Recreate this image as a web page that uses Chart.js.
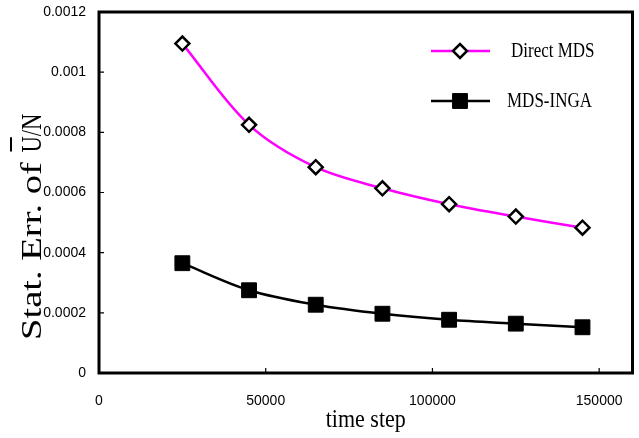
<!DOCTYPE html>
<html>
<head>
<meta charset="utf-8">
<script src="https://cdn.jsdelivr.net/npm/chart.js@4"></script>
<style>
  html, body { margin: 0; padding: 0; background: #fff; overflow: hidden; }
  #wrap { width: 639px; height: 438px; overflow: hidden; position: relative; }
  canvas { display: block; }
</style>
</head>
<body>
<div id="wrap"><canvas id="c" width="644" height="438" style="width:644px;height:438px"></canvas></div>
<script>
// Statistical error of U/N versus number of time steps
const timeSteps = [25000, 45000, 65000, 85000, 105000, 125000, 145000];
const directMDS = [0.001095, 0.000825, 0.000684, 0.000614, 0.000561, 0.000520, 0.000483];
const mdsINGA   = [0.000365, 0.000275, 0.000227, 0.000197, 0.000177, 0.000164, 0.000152];

const seriesNames = ['Direct MDS', 'MDS-INGA'];

const xTickValues = [0, 50000, 100000, 150000];
const xTickLabels = ['0', '50000', '100000', '150000'];
const yTickValues = [0, 0.0002, 0.0004, 0.0006, 0.0008, 0.001, 0.0012];
const yTickLabels = ['0', '0.0002', '0.0004', '0.0006', '0.0008', '0.001', '0.0012'];

const xTitle = 'time step';
const yTitleParts = ['Stat. Err. of ', 'U', '/N'];   // middle part carries an overline

const toPoints = (xs, ys) => xs.map((x, i) => ({ x, y: ys[i] }));

const SERIF = '"Liberation Serif", "Times New Roman", serif';
const SANS = '"Liberation Sans", Arial, sans-serif';

// Frame, inward tick marks, legend and axis titles
const decorations = {
  id: 'decorations',
  beforeDatasetsDraw(chart) {
    const { ctx, chartArea: a, scales: { x, y } } = chart;
    ctx.save();
    ctx.strokeStyle = '#000';
    ctx.lineWidth = 3;
    ctx.strokeRect(a.left, a.top, a.right - a.left, a.bottom - a.top);
    ctx.lineWidth = 1.2;
    ctx.beginPath();
    x.ticks.forEach(t => {
      const px = x.getPixelForValue(t.value);
      ctx.moveTo(px, a.bottom); ctx.lineTo(px, a.bottom - 5);
    });
    y.ticks.forEach(t => {
      const py = y.getPixelForValue(t.value);
      ctx.moveTo(a.left, py); ctx.lineTo(a.left + 5, py);
    });
    ctx.stroke();
    ctx.restore();
  },
  afterDraw(chart) {
    const { ctx, chartArea: a } = chart;
    ctx.save();

    // legend
    const rowY = [51, 101];
    const textX = [511, 507];
    chart.data.datasets.forEach((ds, i) => {
      const cy = rowY[i];
      ctx.strokeStyle = ds.borderColor;
      ctx.lineWidth = ds.borderWidth;
      ctx.beginPath();
      ctx.moveTo(431, cy); ctx.lineTo(490, cy);
      ctx.stroke();
      ctx.fillStyle = ds.pointBackgroundColor;
      ctx.strokeStyle = ds.pointBorderColor;
      ctx.lineWidth = ds.pointBorderWidth;
      Chart.helpers.drawPoint(ctx, {
        pointStyle: ds.pointStyle, radius: ds.pointRadius,
        borderWidth: ds.pointBorderWidth, rotation: 0
      }, 460, cy);
      ctx.save();
      ctx.translate(textX[i], cy + 1);
      ctx.scale(1, 1.2);
      ctx.fillStyle = '#000';
      ctx.font = '17px ' + SERIF;
      ctx.textAlign = 'left';
      ctx.textBaseline = 'middle';
      ctx.fillText(ds.label, 0, 0);
      ctx.restore();
    });

    // x title
    ctx.save();
    ctx.translate((a.left + a.right) / 2, 427);
    ctx.scale(1, 1.15);
    ctx.fillStyle = '#000';
    ctx.font = '22px ' + SERIF;
    ctx.textAlign = 'center';
    ctx.textBaseline = 'alphabetic';
    ctx.fillText(xTitle, 0, 0);
    ctx.restore();

    // y title, read bottom to top, with an overlined U
    ctx.save();
    ctx.translate(41, 340);
    ctx.rotate(-Math.PI / 2);
    ctx.fillStyle = '#000';
    ctx.strokeStyle = '#000';
    ctx.font = '29px ' + SERIF;
    ctx.textBaseline = 'alphabetic';
    ctx.textAlign = 'left';
    const [pre, mid, post] = yTitleParts;
    const preScale = 1.33, tailScale = 0.78;
    const preW = ctx.measureText(pre).width * preScale;
    const midW = ctx.measureText(mid).width * tailScale;
    ctx.save();
    ctx.scale(preScale, 1);
    ctx.fillText(pre, 0, 0);
    ctx.restore();
    ctx.save();
    ctx.translate(preW, 0);
    ctx.scale(tailScale, 1);
    ctx.fillText(mid + post, 0, 0);
    ctx.restore();
    ctx.lineWidth = 2;
    ctx.beginPath();
    ctx.moveTo(preW + 1, -30);
    ctx.lineTo(preW + midW - 1, -30);
    ctx.stroke();
    ctx.restore();

    ctx.restore();
  }
};

new Chart(document.getElementById('c'), {
  type: 'line',
  data: {
    datasets: [
      {
        label: seriesNames[0],
        data: toPoints(timeSteps, directMDS),
        borderColor: '#ff00ff',
        borderWidth: 2.5,
        pointStyle: 'rectRot',
        pointRadius: 7,
        pointBackgroundColor: '#ffffff',
        pointBorderColor: '#000000',
        pointBorderWidth: 2.5,
        tension: 0.33,
        fill: false
      },
      {
        label: seriesNames[1],
        data: toPoints(timeSteps, mdsINGA),
        borderColor: '#000000',
        borderWidth: 2.5,
        pointStyle: 'rect',
        pointRadius: 10.5,
        pointBackgroundColor: '#000000',
        pointBorderColor: '#000000',
        pointBorderWidth: 1,
        tension: 0.33,
        fill: false
      }
    ]
  },
  options: {
    responsive: false,
    animation: false,
    devicePixelRatio: 1,
    layout: { padding: { top: 12, right: 1, left: 0, bottom: 0 } },
    plugins: { legend: { display: false }, tooltip: { enabled: false } },
    scales: {
      x: {
        type: 'linear',
        min: 0,
        max: 160000,
        grid: { display: false, drawTicks: false },
        border: { display: false },
        afterBuildTicks: s => { s.ticks = xTickValues.map(v => ({ value: v })); },
        afterFit: s => { s.height = 65; s.paddingLeft = 0; s.paddingRight = 0; },
        ticks: {
          autoSkip: false,
          maxRotation: 0,
          padding: 20,
          color: '#000',
          font: { family: SANS, size: 14 },
          callback: (v, i) => xTickLabels[i]
        }
      },
      y: {
        type: 'linear',
        min: 0,
        max: 0.0012,
        grid: { display: false, drawTicks: false },
        border: { display: false },
        afterBuildTicks: s => { s.ticks = yTickValues.map(v => ({ value: v })); },
        afterFit: s => { s.width = 99; s.paddingTop = 0; s.paddingBottom = 0; },
        ticks: {
          padding: 13,
          color: '#000',
          font: { family: SANS, size: 14 },
          callback: (v, i) => yTickLabels[i]
        }
      }
    }
  },
  plugins: [decorations]
});
</script>
</body>
</html>
